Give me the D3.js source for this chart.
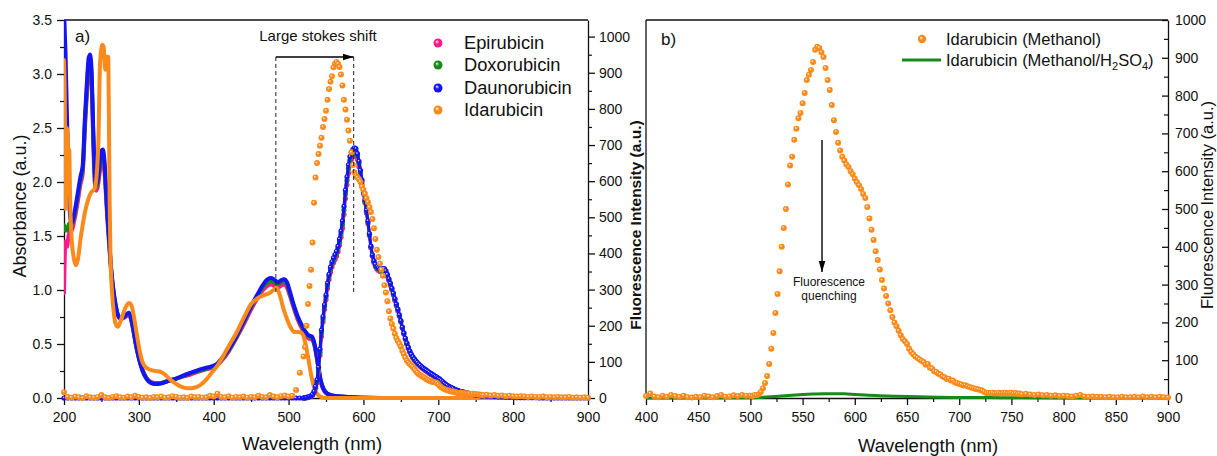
<!DOCTYPE html>
<html>
<head>
<meta charset="utf-8">
<script src="https://cdn.jsdelivr.net/npm/d3@7"></script>
<style>
body { margin: 0; background: #fff; }
svg text { font-family: "Liberation Sans", Arial, sans-serif; fill: #111; }
</style>
</head>
<body>
<svg id="world" width="1217" height="456"></svg>
<script>
// ---------- data, panel a : absorbance (left axis) ----------
var daunoAbsWl = [200,202,204,206,208,210,214,218,222,225, 228,231,233,235,237,239,241,243,245,248,
  250,252,254,256,258,260,263,266,269,272, 276,280,284,287,290,293,296,300,305,310,
  316,322,330,340,350,360,370,380,390,400, 405,410,420,430,440,450,460,466,472,477,
  482,486,490,494,498,502,507,512,518,523, 527,531,534,537,540,543,547,552,560,580,
  600,650,700,800,900];
var daunoAbs = [3.6,3.2,2.6,2.1,1.7,1.62,1.72,1.88,2.05,2.15, 2.6,2.97,3.15,3.18,3.0,2.5,2.1,1.98,2.02,2.2,
  2.29,2.3,2.2,1.95,1.7,1.5,1.2,1.0,0.86,0.77, 0.74,0.75,0.78,0.79,0.73,0.62,0.5,0.37,0.25,0.18,
  0.14,0.13,0.135,0.16,0.18,0.21,0.235,0.26,0.28,0.3, 0.32,0.36,0.45,0.57,0.71,0.85,0.98,1.05,1.1,1.11,
  1.09,1.07,1.09,1.1,1.07,0.98,0.86,0.76,0.67,0.61, 0.58,0.57,0.52,0.42,0.28,0.16,0.08,0.04,0.02,0.01,
  0.005,0,0,0,0];
var epiAbs = [0.97,1.45,1.4,1.5,1.55,1.55,1.65,1.8,1.98,2.08, 2.5,2.85,3.02,3.06,2.9,2.4,2.0,1.92,1.95,2.1,
  2.17,2.18,2.1,1.88,1.65,1.45,1.17,0.98,0.85,0.76, 0.73,0.74,0.76,0.77,0.71,0.61,0.49,0.37,0.26,0.19,
  0.15,0.14,0.14,0.16,0.18,0.2,0.22,0.245,0.265,0.285, 0.305,0.34,0.43,0.55,0.68,0.82,0.94,1.0,1.04,1.05,
  1.03,1.02,1.04,1.05,1.02,0.94,0.83,0.73,0.64,0.58, 0.55,0.54,0.5,0.4,0.27,0.15,0.07,0.035,0.015,0.01,
  0,0,0,0,0];
var doxoAbs = [1.6,1.55,1.55,1.6,1.62,1.6,1.69,1.85,2.02,2.12, 2.55,2.92,3.1,3.13,2.96,2.46,2.06,1.95,1.99,2.16,
  2.24,2.25,2.16,1.92,1.68,1.48,1.19,0.99,0.86,0.77, 0.74,0.75,0.77,0.78,0.72,0.62,0.5,0.37,0.255,0.185,
  0.145,0.135,0.14,0.16,0.18,0.205,0.23,0.25,0.27,0.29, 0.31,0.35,0.44,0.56,0.7,0.84,0.96,1.03,1.07,1.08,
  1.06,1.05,1.07,1.08,1.05,0.96,0.85,0.75,0.66,0.6, 0.57,0.56,0.51,0.41,0.28,0.16,0.08,0.04,0.02,0.01,
  0,0,0,0,0];
var idaAbsWl = [200,201,202,203,204,205,206,207,208,210, 213,216,219,222,224,228,232,236,241,244,
  246,248,250,251,253,255,256,257,259,260, 261,262,264,267,270,272,275,279,283,287,
  290,293,297,301,305,310,316,322,330,336, 342,350,358,366,374,382,390,398,405,412,
  420,430,440,450,458,466,474,480,484,488, 493,498,503,508,513,518,522,526,530,534,
  538,543,550,600,700,800,900];
var idaAbs = [3.13,2.8,1.75,2.0,2.5,2.4,2.0,2.3,1.9,1.5, 1.3,1.23,1.3,1.47,1.56,1.72,1.83,1.9,1.94,2.1,
  2.39,3.07,3.24,3.27,3.25,3.04,3.12,3.16,3.16,2.6, 1.8,1.35,1.0,0.76,0.67,0.66,0.7,0.78,0.85,0.88,
  0.86,0.77,0.6,0.44,0.33,0.28,0.26,0.25,0.24,0.21, 0.17,0.13,0.1,0.09,0.095,0.12,0.17,0.24,0.3,0.38,
  0.48,0.6,0.74,0.87,0.92,0.95,0.97,1.0,1.02,0.96, 0.83,0.73,0.65,0.61,0.61,0.6,0.52,0.38,0.22,0.1,
  0.04,0.01,0,0,0,0,0];

// ---------- data, panel a : fluorescence (right axis) ----------
var flWl = [].concat(d3.range(200, 520, 5), d3.range(520, 760, 2), d3.range(760, 905, 5));
var peakWl = d3.range(520, 760, 2);
var idaFl = [16,3,1,4,2,0,5,2,1,3, 8,2,0,3,5,2,1,4,2,6, 3,1,2,0,3,2,4,1,2,5, 3,1,2,0,4,2,3,1,2,6,
  4,12,3,2,5,1,3,2,4,1, 3,2,6,3,2,8,4,2,5,7, 4,6,22,70,
  115,141,200,260,310,355,430,540,610,650, 675,698,720,750,772,795,825,855,875,890,
  915,925,930,925,916,895,865,825,798,770, 740,712,680,645,625,614,610,605,598,585,
  576,565,553,542,528,515,495,470,440,410, 390,372,355,338,312,292,268,240,220,205,
  192,178,166,158,150,142,130,122,112,104, 98,94,90,86,80,75,70,66,63,60,
  58,55,52,50,48,46,45,44,43,42, 38,33,30,27,25,23,22,20,19,18,
  17,16,15,14,14,15,14,13,13,12, 13,12,11,12,10,11,10,10,9,9,
  8,9,7,8,6,7,5,6,5,4, 5,4,3,4,3,3,4,2,3,2, 3,2,2,3,1,2,1,2,1];
var daunoFl = [0,0,0,0,0,0,0,0,0,0, 0,0,0,0,0,0,0,0,0,0, 0,0,0,0,0,0,0,0,0,0, 0,0,0,0,0,0,0,0,0,0,
  0,0,0,0,0,0,0,0,0,0, 0,0,0,0,0,0,0,0,0,0, 0,0,0,0,
  0,1,2,3,4,6,10,18,32,50, 85,135,188,225,258,285,318,342,362,377,
  388,397,406,420,440,462,490,530,575,612, 645,668,680,688,692,690,676,655,630,604,
  575,548,520,490,455,420,396,380,370,363, 360,357,356,358,358,352,342,330,318,304,
  290,275,260,246,230,214,196,180,165,152, 140,130,121,114,108,103,98,94,90,86,
  83,80,77,74,71,68,66,63,60,58, 55,52,48,45,41,38,35,32,30,28,
  26,24,22,21,19,18,17,16,15,14, 13,12,11,10,9,8,8,7,7,6,
  6,5,4,4,3,3,2,2,2,1, 1,1,1,1,1,0,0,0,0,0, 0,0,0,0,0,0,0,0,0];
var epiFl = [0,0,1,2,3,5,8,14,26,42, 72,118,170,210,245,272,303,328,348,363,
  374,383,392,405,423,445,470,508,552,590, 622,646,660,668,672,671,660,640,616,592,
  565,540,512,483,450,416,392,375,364,357, 353,350,349,350,350,345,336,325,312,299,
  285,270,255,241,226,210,193,177,162,149, 137,127,118,111,105,100,95,91,87,83,
  80,77,74,71,68,65,63,60,57,55, 52,49,46,43,39,36,33,31,29,27,
  25,23,21,20,18,17,16,15,14,13, 12,11,10,9,9,8,7,7,6,6];
var doxoFl = [0,1,1,2,4,6,9,16,29,46, 78,126,180,218,252,280,312,336,356,371,
  382,391,400,413,432,454,480,520,565,602, 635,658,672,680,684,682,670,649,624,599,
  570,544,516,487,452,418,394,378,367,360, 357,354,353,355,355,349,339,328,315,302,
  288,273,258,244,228,212,195,179,164,151, 139,129,120,113,107,102,97,93,89,85,
  82,79,76,73,70,67,65,62,59,57, 54,51,47,44,40,37,34,32,30,28,
  26,24,22,21,19,18,17,16,15,14, 13,12,11,10,9,8,8,7,7,6];

// ---------- data, panel b ----------
var bWl = [].concat(d3.range(400, 500, 4), d3.range(500, 760, 2), d3.range(760, 904, 4));
var methanolFl = [5,12,4,2,6,3,8,5,3,6, 2,1,3,2,6,4,2,5,8,3, 4,7,5,8,6,
  6,5,8,7,10,16,26,40,58,90, 130,172,225,275,335,400,450,500,565,615,
  638,683,712,740,754,780,807,841,855,868, 889,921,929,926,915,902,873,841,815,775,
  735,704,675,655,638,628,618,611,600,592, 580,571,563,553,540,529,505,475,445,418,
  388,365,340,312,290,270,250,232,214,200, 190,178,166,156,150,143,130,122,116,110,
  106,102,98,95,88,90,80,78,71,69, 64,62,57,55,50,51,46,46,41,40,
  37,36,33,34,31,29,27,26,24,23, 21,20,16,13,14,13,14,12,13,14,
  12,13,14,12,13,14,12,13,11,12,
  10,11,9,8,9,7,8,6,7,5, 6,5,4,6,8,4,3,4,3,3, 2,3,2,2,3,2,2,3,2,4, 2,3,2,3,2,1];
var h2so4Wl = [400,450,500,510,520,530,540,550,560,570,580,590,600,610,620,640,660,680,700,730,760,800,850,900];
var h2so4Fl = [0,0,0.5,1.5,3,5,7,9,10.5,11.5,11.5,11,9.5,8,6.5,4.5,3,2,1.5,1,0.5,0.3,0.2,0];

// tick values
var absTicks = [0, 0.5, 1.0, 1.5, 2.0, 2.5, 3.0, 3.5];
var flTicks = [0, 100, 200, 300, 400, 500, 600, 700, 800, 900, 1000];
var aWlTicks = [200, 300, 400, 500, 600, 700, 800, 900];
var bWlTicks = [400, 450, 500, 550, 600, 650, 700, 750, 800, 850, 900];

var col = { epi: "#ff1a8c", doxo: "#178a17", dauno: "#1414f5", ida: "#fb8a1c" };

// ---------- setup ----------
var svg = d3.select("#world");
var defs = svg.append("defs");

function ball(id, c) {
  var g = defs.append("radialGradient").attr("id", id)
    .attr("cx", "50%").attr("cy", "50%").attr("r", "50%")
    .attr("fx", "36%").attr("fy", "32%");
  g.append("stop").attr("offset", "0%").attr("stop-color", "#fff");
  g.append("stop").attr("offset", "45%").attr("stop-color", c);
  g.append("stop").attr("offset", "100%").attr("stop-color", c);
}
for (var k in col) ball("ball-" + k, col[k]);

defs.append("marker").attr("id", "arrow").attr("viewBox", "0 0 10 10")
  .attr("refX", 10).attr("refY", 5).attr("markerWidth", 11).attr("markerHeight", 11)
  .attr("markerUnits", "userSpaceOnUse").attr("orient", "auto")
  .append("path").attr("d", "M0,2 L10,5 L0,8 z").attr("fill", "#000");

defs.append("clipPath").attr("id", "clipA").append("rect")
  .attr("x", 64).attr("y", 20).attr("width", 524).attr("height", 380);

var xa = d3.scaleLinear().domain([200, 900]).range([64, 588]);
var ya = d3.scaleLinear().domain([0, 3.5]).range([398, 20]);
var yaR = d3.scaleLinear().domain([0, 1046]).range([398, 20]);
var xb = d3.scaleLinear().domain([400, 900]).range([646, 1168]);
var yb = d3.scaleLinear().domain([0, 1000]).range([398, 20]);

function styleAxis(g, fs) {
  g.attr("font-size", fs).attr("font-family", null);
  g.selectAll("line").attr("stroke", "#111").attr("stroke-width", 1.3);
  g.selectAll("path").attr("stroke", "#111").attr("stroke-width", 1.3);
}
function minor(axis, vals, size, tr) {
  var g = svg.append("g").attr("transform", tr).call(axis.tickValues(vals).tickSize(size).tickFormat(""));
  g.select(".domain").remove();
  g.selectAll("line").attr("stroke", "#111").attr("stroke-width", 1.2);
}

// ---------- panel a axes ----------
var g;
g = svg.append("g").attr("transform", "translate(64,0)")
  .call(d3.axisLeft(ya).tickValues(absTicks).tickFormat(d3.format(".1f")).tickSize(7).tickSizeOuter(0).tickPadding(5));
styleAxis(g, 14);
minor(d3.axisLeft(ya), [0.25, 0.75, 1.25, 1.75, 2.25, 2.75, 3.25], 4, "translate(64,0)");

g = svg.append("g").attr("transform", "translate(0,398)")
  .call(d3.axisBottom(xa).tickValues(aWlTicks).tickFormat(d3.format("d")).tickSize(7).tickSizeOuter(0).tickPadding(7));
styleAxis(g, 14);
minor(d3.axisBottom(xa), [250, 350, 450, 550, 650, 750, 850], 4, "translate(0,398)");

g = svg.append("g").attr("transform", "translate(588,0)")
  .call(d3.axisRight(yaR).tickValues(flTicks).tickFormat(d3.format("d")).tickSize(7).tickSizeOuter(0).tickPadding(4));
styleAxis(g, 14);
minor(d3.axisRight(yaR), d3.range(50, 1001, 100), 4, "translate(588,0)");

svg.append("line").attr("x1", 64).attr("x2", 588).attr("y1", 20).attr("y2", 20)
  .attr("stroke", "#111").attr("stroke-width", 1.3);

// ---------- panel b axes ----------
g = svg.append("g").attr("transform", "translate(0,398)")
  .call(d3.axisBottom(xb).tickValues(bWlTicks).tickFormat(d3.format("d")).tickSize(7).tickSizeOuter(0).tickPadding(7));
styleAxis(g, 14);
minor(d3.axisBottom(xb), d3.range(425, 900, 50), 4, "translate(0,398)");

g = svg.append("g").attr("transform", "translate(1168,0)")
  .call(d3.axisRight(yb).tickValues(flTicks).tickFormat(d3.format("d")).tickSize(-6).tickSizeOuter(0).tickPadding(7));
styleAxis(g, 14);
minor(d3.axisRight(yb), d3.range(50, 1000, 100), -4, "translate(1168,0)");

svg.append("line").attr("x1", 646).attr("x2", 1168).attr("y1", 20).attr("y2", 20)
  .attr("stroke", "#111").attr("stroke-width", 1.3);
svg.append("line").attr("x1", 646).attr("x2", 646).attr("y1", 20).attr("y2", 398)
  .attr("stroke", "#111").attr("stroke-width", 1.3);

// ---------- panel a marks ----------
var plotA = svg.append("g");
var absLine = function(wl) {
  return d3.line().x(function(d, i) { return xa(wl[i]); }).y(function(d) { return ya(d); })
    .curve(d3.curveMonotoneX);
};
var absSeries = [
  { vals: epiAbs, wl: daunoAbsWl, c: col.epi },
  { vals: doxoAbs, wl: daunoAbsWl, c: col.doxo },
  { vals: daunoAbs, wl: daunoAbsWl, c: col.dauno },
  { vals: idaAbs, wl: idaAbsWl, c: col.ida }
];
absSeries.forEach(function(s) {
  plotA.append("path").attr("d", absLine(s.wl)(s.vals)).attr("clip-path", "url(#clipA)")
    .attr("fill", "none").attr("stroke", s.c).attr("stroke-width", 4)
    .attr("stroke-linejoin", "round").attr("stroke-linecap", "round");
});

function flDots(layer, wl, vals, key, r, xs, ys, withLine) {
  if (withLine) {
    layer.append("path")
      .attr("d", d3.line().x(function(d, i) { return xs(wl[i]); }).y(function(d) { return ys(d); })(vals))
      .attr("fill", "none").attr("stroke", col[key]).attr("stroke-width", 3);
  }
  layer.append("g").selectAll("circle").data(vals).enter().append("circle")
    .attr("cx", function(d, i) { return xs(wl[i]); })
    .attr("cy", function(d) { return ys(d); })
    .attr("r", r).attr("fill", "url(#ball-" + key + ")");
}
flDots(plotA, peakWl, epiFl, "epi", 2.6, xa, yaR, true);
flDots(plotA, peakWl, doxoFl, "doxo", 2.6, xa, yaR, true);
flDots(plotA, flWl, daunoFl, "dauno", 2.6, xa, yaR, true);
flDots(plotA, flWl, idaFl, "ida", 3, xa, yaR, false);

// stokes shift annotation
svg.append("line").attr("x1", xa(483)).attr("x2", xa(483)).attr("y1", 57).attr("y2", 292)
  .attr("stroke", "#222").attr("stroke-width", 1).attr("stroke-dasharray", "4,3");
svg.append("line").attr("x1", xa(587)).attr("x2", xa(587)).attr("y1", 57).attr("y2", 292)
  .attr("stroke", "#222").attr("stroke-width", 1).attr("stroke-dasharray", "4,3");
svg.append("line").attr("x1", xa(483)).attr("x2", xa(587)).attr("y1", 57).attr("y2", 57)
  .attr("stroke", "#000").attr("stroke-width", 1.6).attr("marker-end", "url(#arrow)");
svg.append("text").attr("x", 318).attr("y", 41).attr("text-anchor", "middle")
  .attr("font-size", 15).text("Large stokes shift");

svg.append("text").attr("x", 75).attr("y", 42).attr("font-size", 17).text("a)");

// legend a
var legA = [["Epirubicin", "epi"], ["Doxorubicin", "doxo"], ["Daunorubicin", "dauno"], ["Idarubicin", "ida"]];
var legAy = [43, 65, 88, 110];
legA.forEach(function(d, i) {
  svg.append("circle").attr("cx", 438).attr("cy", legAy[i]).attr("r", 4.5).attr("fill", "url(#ball-" + d[1] + ")");
  svg.append("text").attr("x", 464).attr("y", legAy[i] + 6).attr("font-size", 18.3).text(d[0]);
});

// ---------- panel b marks ----------
var plotB = svg.append("g");
plotB.append("path")
  .attr("d", d3.line().x(function(d, i) { return xb(h2so4Wl[i]); }).y(function(d) { return yb(d); })
    .curve(d3.curveMonotoneX)(h2so4Fl))
  .attr("fill", "none").attr("stroke", col.doxo).attr("stroke-width", 3);
flDots(plotB, bWl, methanolFl, "ida", 3, xb, yb, false);

// quenching arrow
svg.append("line").attr("x1", xb(568.6)).attr("x2", xb(568.6)).attr("y1", 140).attr("y2", 272)
  .attr("stroke", "#000").attr("stroke-width", 1.4).attr("marker-end", "url(#arrow)");
svg.append("text").attr("x", 829).attr("y", 286).attr("text-anchor", "middle")
  .attr("font-size", 12).text("Fluorescence");
svg.append("text").attr("x", 829).attr("y", 300).attr("text-anchor", "middle")
  .attr("font-size", 12).text("quenching");

svg.append("text").attr("x", 661).attr("y", 45).attr("font-size", 17).text("b)");

// legend b
svg.append("circle").attr("cx", 922).attr("cy", 39).attr("r", 4.2).attr("fill", "url(#ball-ida)");
svg.append("line").attr("x1", 902).attr("x2", 941).attr("y1", 60).attr("y2", 60)
  .attr("stroke", col.doxo).attr("stroke-width", 3);
svg.append("text").attr("x", 946).attr("y", 45).attr("font-size", 16.5).text("Idarubicin (Methanol)");
var t2 = svg.append("text").attr("x", 946).attr("y", 66).attr("font-size", 16.5);
t2.append("tspan").text("Idarubicin (Methanol/H");
t2.append("tspan").attr("font-size", 11).attr("dy", 4).text("2");
t2.append("tspan").attr("dy", -4).text("SO");
t2.append("tspan").attr("font-size", 11).attr("dy", 4).text("4");
t2.append("tspan").attr("dy", -4).text(")");

// ---------- axis titles ----------
svg.append("text").attr("transform", "translate(26,206) rotate(-90)").attr("text-anchor", "middle")
  .attr("font-size", 18).text("Absorbance (a.u.)");
svg.append("text").attr("transform", "translate(641,225) rotate(-90)").attr("text-anchor", "middle")
  .attr("font-size", 15.5).attr("font-weight", "bold").text("Fluorescence Intensity (a.u.)");
svg.append("text").attr("transform", "translate(1213,205) rotate(-90)").attr("text-anchor", "middle")
  .attr("font-size", 16.5).text("Fluorescence Intensity (a.u.)");
svg.append("text").attr("x", 312).attr("y", 450).attr("text-anchor", "middle")
  .attr("font-size", 18.5).text("Wavelength (nm)");
svg.append("text").attr("x", 928).attr("y", 452).attr("text-anchor", "middle")
  .attr("font-size", 18.5).text("Wavelength (nm)");

console.log("Loaded js.");
</script>
</body>
</html>
